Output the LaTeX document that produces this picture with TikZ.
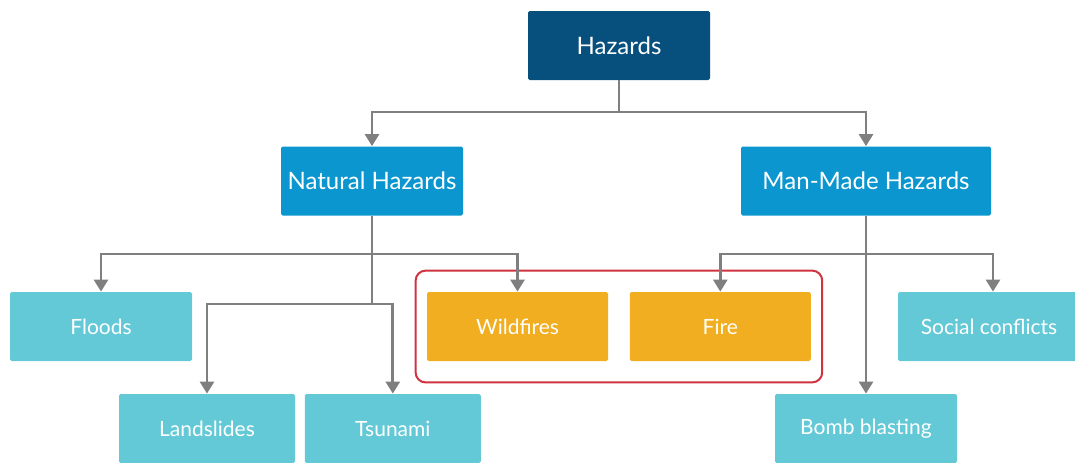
\documentclass[tikz,border=0pt]{standalone}
\usepackage{fontspec}
\setmainfont{Lato}
\usetikzlibrary{arrows.meta,positioning,fit}
\definecolor{RootBlue}{HTML}{07507D}
\definecolor{MidBlue}{HTML}{0B96CF}
\definecolor{LeafTeal}{HTML}{64C9D6}
\definecolor{FireOrange}{HTML}{F0AE20}
\definecolor{FrameRed}{HTML}{D0333F}
\definecolor{EdgeGray}{HTML}{7F7F7F}

\begin{document}
\begin{tikzpicture}[x=0.5pt,y=-0.5pt]
			\tikzset{
			  BoxStyle/.style = { rectangle, rounded corners=0.8pt, text=white,
			                      inner sep=0pt, minimum height=34.5pt },
			  RootStyle/.style = { BoxStyle, fill=RootBlue, minimum width=91pt,
			                       font=\fontsize{12}{14}\selectfont },
			  MidStyle/.style = { BoxStyle, fill=MidBlue, font=\fontsize{12}{14}\selectfont },
			  LeafStyle/.style = { BoxStyle, fill=LeafTeal, minimum width=91pt,
			                       font=\fontsize{10.5}{12}\selectfont },
			  FireStyle/.style = { LeafStyle, fill=FireOrange, minimum width=90.5pt },
			  FrameStyle/.style = { draw=FrameRed, line width=1pt, rounded corners=5pt,
			                        inner xsep=5.5pt, inner ysep=10.5pt },
			  EdgeStyle/.style = { draw=EdgeGray, line width=1.35pt },
			  ArrowStyle/.style = { EdgeStyle, -{Triangle[width=7pt,length=6pt]} } }
			\useasboundingbox (0,0) rectangle (1075,462);
			\node[RootStyle] (haz) at (619,45.5) {Hazards};
			\node[MidStyle, minimum width=91pt] (nat) at (372,181) {Natural Hazards};
			\node[MidStyle, minimum width=125pt] (man) at (866,181) {Man-Made Hazards};
			\node[LeafStyle] (floods) at (101,326.5) {Floods};
			\node[FireStyle] (wild) at (517.5,326.5) {Wildfires};
			\node[FireStyle, right=10.5pt of wild] (fire) {Fire};
			\node[LeafStyle] (social) at (989,326.5) {Social conflicts};
			\node[LeafStyle, minimum width=88pt] (land) at (207,428.5) {Landslides};
			\node[LeafStyle, minimum width=88pt, right=4.5pt of land] (tsu) {Tsunami};
			\node[LeafStyle] (bomb) at (866,428.5) {Bomb blasting};
			\node[FrameStyle, fit=(wild)(fire)] (fires) {};
			% junctions
			\coordinate (top) at (619,112);
			\coordinate (natA) at (372,254);
			\coordinate (natB) at (372,304);
			\coordinate (manA) at (866,254);
			\draw[EdgeStyle] (haz.south) -- (top);
			\draw[ArrowStyle] (top) -| (nat.north);
			\draw[ArrowStyle] (top) -| (man.north);
			\draw[EdgeStyle] (nat.south) -- (natB);
			\draw[ArrowStyle] (natA) -| (floods.north);
			\draw[ArrowStyle] (natA) -| (wild.north);
			\draw[ArrowStyle] (natB) -| (land.north);
			\draw[ArrowStyle] (natB) -| (tsu.north);
			\draw[ArrowStyle] (man.south) -- (bomb.north);
			\draw[ArrowStyle] (manA) -| (fire.north);
			\draw[ArrowStyle] (manA) -| ([xshift=2pt]social.north);
		\end{tikzpicture}
\end{document}
